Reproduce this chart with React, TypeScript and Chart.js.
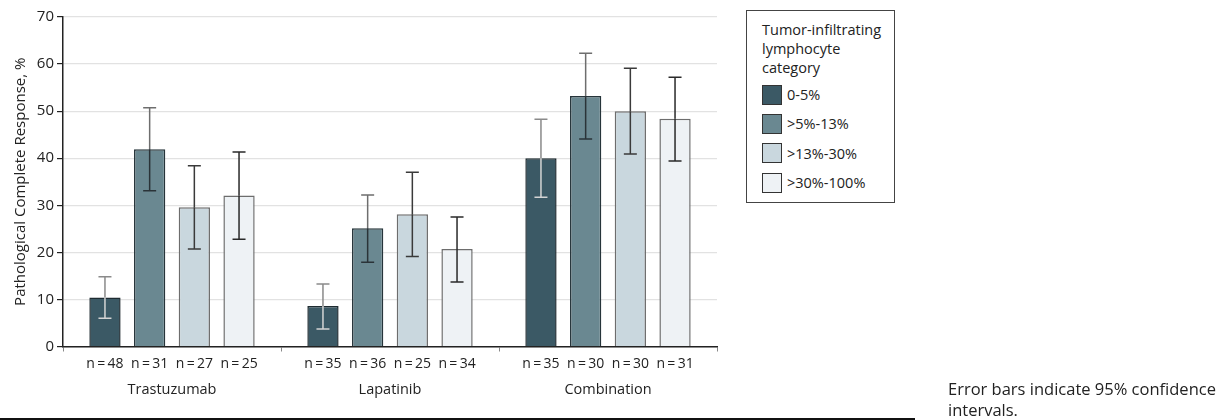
import React, { useEffect, useRef } from "react";
import { Chart, registerables } from "chart.js";

Chart.register(...registerables);

const groups = ["Trastuzumab", "Lapatinib", "Combination"];
const seriesNames = ["0-5%", ">5%-13%", ">13%-30%", ">30%-100%"];
const seriesColors = ["#3b5965", "#6a8891", "#c9d7de", "#eef2f5"];
const seriesBorders = ["#1e2b31", "#26343a", "#6d6d6d", "#6d6d6d"];
const whiskerOutside = ["#8a8a8a", "#6e6e6e", "#3a3a3a", "#2a2a2a"];
const whiskerInside = ["#d4d4d4", "#2a3338", "#3a3a3a", "#2a2a2a"];

// values per series (one per group)
const tilLow = [10.4, 8.6, 40.0];
const tilMidLow = [41.9, 25.1, 53.2];
const tilMidHigh = [29.6, 28.1, 50.0];
const tilHigh = [32.1, 20.7, 48.4];

const ciLowLower = [6.0, 3.7, 31.7];
const ciLowUpper = [14.8, 13.3, 48.3];
const ciMidLowLower = [33.1, 17.9, 44.1];
const ciMidLowUpper = [50.7, 32.2, 62.3];
const ciMidHighLower = [20.7, 19.1, 40.9];
const ciMidHighUpper = [38.4, 37.0, 59.1];
const ciHighLower = [22.8, 13.7, 39.4];
const ciHighUpper = [41.3, 27.5, 57.2];

const nLow = [48, 35, 35];
const nMidLow = [31, 36, 30];
const nMidHigh = [27, 25, 30];
const nHigh = [25, 34, 31];

const yTicks = [0, 10, 20, 30, 40, 50, 60, 70];

const values = [tilLow, tilMidLow, tilMidHigh, tilHigh];
const lowers = [ciLowLower, ciMidLowLower, ciMidHighLower, ciHighLower];
const uppers = [ciLowUpper, ciMidLowUpper, ciMidHighUpper, ciHighUpper];
const ns = [nLow, nMidLow, nMidHigh, nHigh];

const FONT = "'Open Sans', 'Noto Sans', sans-serif";

const errorBarPlugin = {
  id: "errorBars",
  afterDatasetsDraw(chart: any) {
    const ctx = chart.ctx;
    const yScale = chart.scales.y;
    ctx.save();
    chart.data.datasets.forEach((ds: any, i: number) => {
      const meta = chart.getDatasetMeta(i);
      meta.data.forEach((bar: any, j: number) => {
        const x = bar.x;
        const yBar = bar.y;
        const yHi = yScale.getPixelForValue(uppers[i][j]);
        const yLo = yScale.getPixelForValue(lowers[i][j]);
        const cap = 6.5;
        ctx.lineWidth = 1.5;
        ctx.strokeStyle = whiskerOutside[i];
        ctx.beginPath();
        ctx.moveTo(x, yHi);
        ctx.lineTo(x, yBar);
        ctx.moveTo(x - cap, yHi);
        ctx.lineTo(x + cap, yHi);
        ctx.stroke();
        ctx.strokeStyle = whiskerInside[i];
        ctx.beginPath();
        ctx.moveTo(x, yBar);
        ctx.lineTo(x, yLo);
        ctx.moveTo(x - cap, yLo);
        ctx.lineTo(x + cap, yLo);
        ctx.stroke();
      });
    });
    ctx.restore();
  },
};

const nLabelPlugin = {
  id: "nLabels",
  afterDraw(chart: any) {
    const ctx = chart.ctx;
    ctx.save();
    ctx.font = `14px ${FONT}`;
    ctx.fillStyle = "#222";
    ctx.textAlign = "center";
    ctx.textBaseline = "middle";
    const y = chart.chartArea.bottom + 18;
    chart.data.datasets.forEach((ds: any, i: number) => {
      const meta = chart.getDatasetMeta(i);
      meta.data.forEach((bar: any, j: number) => {
        ctx.fillText(`n\u2009=\u2009${ns[i][j]}`, bar.x, y);
      });
    });
    ctx.restore();
  },
};

export default function App() {
  const ref = useRef<HTMLCanvasElement>(null);
  useEffect(() => {
    document.body.style.margin = "0";
    const chart = new Chart(ref.current!, {
      type: "bar",
      data: {
        labels: groups,
        datasets: seriesNames.map((name, i) => ({
          label: name,
          data: values[i],
          backgroundColor: seriesColors[i],
          borderColor: seriesBorders[i],
          borderWidth: 1.5,
          categoryPercentage: 0.82,
          barPercentage: 0.7,
        })),
      },
      options: {
        responsive: false,
        animation: false,
        layout: { padding: { top: 17, right: 1, left: 0, bottom: 0 } },
        plugins: {
          legend: { display: false },
          tooltip: { enabled: false },
        },
        scales: {
          x: {
            grid: {
              offset: true,
              drawOnChartArea: false,
              tickLength: 5,
              color: "#888",
            },
            border: { color: "#222", width: 1.5 },
            ticks: {
              padding: 30,
              color: "#222",
              font: { family: FONT, size: 14.5 },
            },
            afterFit(scale: any) {
              scale.height = 63.5;
            },
          },
          y: {
            min: 0,
            max: 70,
            afterBuildTicks(scale: any) {
              scale.ticks = yTicks.map((v) => ({ value: v }));
            },
            grid: {
              color: "#e2e2e2",
              lineWidth: 1.2,
              tickLength: 6,
              tickColor: "#222",
            },
            border: { color: "#222", width: 1.5 },
            ticks: {
              padding: 3,
              color: "#222",
              font: { family: FONT, size: 15 },
            },
            title: {
              display: true,
              text: "Pathological Complete Response, %",
              color: "#222",
              font: { family: FONT, size: 15 },
              padding: { top: 12, bottom: 0 },
            },
            afterFit(scale: any) {
              scale.width = 63;
            },
          },
        },
      },
      plugins: [errorBarPlugin, nLabelPlugin],
    });
    return () => chart.destroy();
  }, []);

  const swatch = (c: string) => ({
    width: 18,
    height: 18,
    background: c,
    border: "1px solid #333",
    marginRight: 5,
    flex: "0 0 auto",
  });

  return (
    <div style={{ position: "fixed", left: 0, top: 0, width: 1221, height: 420, background: "#fff", fontFamily: FONT, color: "#222" }}>
      <canvas ref={ref} width={718} height={410} style={{ position: "absolute", left: 0, top: 0 }} />
      <div
        style={{
          position: "absolute",
          left: 746,
          top: 10,
          width: 149,
          height: 193,
          border: "1px solid #444",
          boxSizing: "border-box",
          padding: "9px 0 0 15px",
          fontSize: 14.5,
        }}
      >
        <div style={{ lineHeight: "19px", marginBottom: 3 }}>
          Tumor-infiltrating
          <br />
          lymphocyte
          <br />
          category
        </div>
        {seriesNames.map((n, i) => (
          <div key={n} style={{ display: "flex", alignItems: "center", height: 29.3 }}>
            <div style={swatch(seriesColors[i])} />
            <span>{n}</span>
          </div>
        ))}
      </div>
      <div style={{ position: "absolute", left: 948, top: 378, fontSize: 16.5, lineHeight: "21px", width: 273 }}>
        Error bars indicate 95% confidence
        <br />
        intervals.
      </div>
      <div style={{ position: "absolute", left: 0, top: 418, width: 915, height: 1.5, background: "#111" }} />
    </div>
  );
}
